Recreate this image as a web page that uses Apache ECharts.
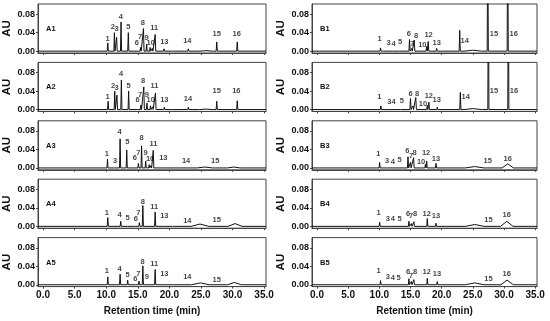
<!DOCTYPE html>
<html>
<head>
<meta charset="utf-8">
<script src="https://cdn.jsdelivr.net/npm/echarts@6/dist/echarts.min.js"></script>
<style>html,body{margin:0;padding:0;background:#fff}#c{width:550px;height:321px}</style>
</head>
<body>
<div id="c"></div>
<script>
// axis ticks
const xTicks = [0, 5, 10, 15, 20, 25, 30, 35];
const yTicks = [0, 0.04, 0.08];

// peaks: [retention time (min), height (AU), half base width (min, optional)]
const A1_peaks = [[10.25,0.018],[11.3,0.040],[11.65,0.030],[12.35,0.063],[13.5,0.040],[15.1,0.003],[15.45,0.008],[15.9,0.049],[16.4,0.015],[16.95,0.008],[17.3,0.006],[17.75,0.036],[19.15,0.005],[20.6,0.002],[23.0,0.005],[25.8,0.001,1.0],[27.5,0.020],[30.75,0.020]];
const A2_peaks = [[10.3,0.018],[11.35,0.040],[11.7,0.031],[12.4,0.064],[13.55,0.040],[15.1,0.004],[15.5,0.010],[15.95,0.049],[16.45,0.014],[17.0,0.008],[17.35,0.006],[17.8,0.036],[19.2,0.005],[20.6,0.002],[23.0,0.005],[25.8,0.001,1.0],[27.5,0.018],[30.75,0.019]];
const A3_peaks = [[10.2,0.019],[11.4,0.004],[12.2,0.063],[13.25,0.039],[14.55,0.004],[15.1,0.010],[15.6,0.048],[16.25,0.015],[16.8,0.007],[17.1,0.005],[17.45,0.038],[18.95,0.004],[20.5,0.002],[23.0,0.002],[25.6,0.002,1.2],[27.4,0.002],[30.2,0.002,1.0]];
const A4_peaks = [[10.25,0.019],[12.3,0.011],[13.5,0.003],[14.7,0.004],[15.25,0.008],[15.8,0.045],[17.75,0.031],[19.15,0.004],[20.6,0.002],[24.85,0.005,1.4],[30.4,0.006,1.1]];
const A5_peaks = [[10.25,0.017],[12.2,0.023],[13.4,0.010],[14.7,0.004],[15.2,0.008],[15.8,0.041],[16.4,0.003],[17.75,0.033],[19.05,0.004],[20.6,0.002],[24.9,0.004,1.4],[30.3,0.005,1.1]];
const B1_peaks = [[10.2,0.007],[10.6,0.003],[11.5,0.002],[12.2,0.002],[13.2,0.004],[14.85,0.025,0.1],[15.2,0.006],[15.6,0.024,0.1],[17.1,0.004],[17.6,0.010],[17.85,0.021],[19.2,0.006],[22.9,0.045],[25.0,0.002,1.4],[27.4,0.3],[30.6,0.3]];
const B2_peaks = [[10.25,0.008],[10.65,0.003],[11.6,0.002],[12.3,0.002],[13.5,0.003],[15.0,0.024,0.1],[15.4,0.008],[15.85,0.026,0.1],[17.1,0.004],[17.7,0.009],[17.95,0.016],[19.3,0.005],[23.0,0.037],[25.0,0.002,1.4],[27.5,0.3],[30.7,0.3]];
const B3_peaks = [[10.05,0.012],[11.25,0.003],[12.15,0.003],[13.1,0.004],[14.6,0.024],[15.0,0.012],[15.5,0.022],[16.7,0.003],[17.4,0.008],[17.6,0.015],[19.1,0.010],[25.3,0.003,1.5],[27.5,0.001],[30.6,0.009,0.9]];
const B4_peaks = [[10.05,0.009],[11.35,0.003],[12.0,0.002],[13.1,0.002],[14.75,0.011],[15.15,0.006],[15.55,0.010],[17.7,0.017],[19.1,0.007],[25.3,0.004,1.5],[30.45,0.011,1.0]];
const B5_peaks = [[10.2,0.009],[11.35,0.002],[12.0,0.002],[13.2,0.001],[14.75,0.013],[15.15,0.007],[15.55,0.011],[17.7,0.014],[19.3,0.007],[25.3,0.004,1.5],[30.5,0.010,1.0]];

// peak number labels: [text, retention time, AU]
const A1_labels = [['1',10.2,0.026],['2',11.05,0.052],['3',11.65,0.047],['4',12.3,0.074],['5',13.5,0.052],['6',14.85,0.018],['7',15.35,0.030],['8',15.8,0.060],['9',16.4,0.029],['10',17.05,0.018],['11',17.6,0.050],['13',19.2,0.019],['14',22.85,0.022],['15',27.5,0.037],['16',30.65,0.037]];
const A2_labels = [['1',10.2,0.028],['2',11.1,0.052],['3',11.65,0.047],['4',12.35,0.077],['5',13.55,0.052],['6',14.95,0.020],['7',15.35,0.031],['8',15.85,0.062],['9',16.45,0.031],['10',17.05,0.020],['11',17.65,0.051],['13',19.2,0.020],['14',22.95,0.024],['15',27.5,0.040],['16',30.6,0.040]];
const A3_labels = [['1',10.1,0.030],['3',11.4,0.015],['4',12.1,0.078],['5',13.35,0.056],['6',14.55,0.021],['7',15.1,0.032],['8',15.6,0.064],['9',16.25,0.032],['10',16.95,0.019],['11',17.5,0.052],['13',19.05,0.021],['14',22.65,0.015],['15',27.25,0.015]];
const A4_labels = [['1',10.1,0.029],['4',12.1,0.024],['5',13.4,0.019],['6',14.7,0.015],['7',15.1,0.028],['8',15.8,0.053],['11',17.6,0.043],['13',19.2,0.022],['14',22.85,0.011],['15',27.5,0.013]];
const A5_labels = [['1',10.1,0.029],['4',12.1,0.035],['5',13.4,0.022],['6',14.6,0.012],['7',15.1,0.024],['8',15.75,0.050],['9',16.45,0.016],['11',17.6,0.045],['13',19.2,0.023],['14',22.85,0.016],['15',27.5,0.011]];
const B1_labels = [['1',10.05,0.027],['3',11.5,0.017],['4',12.3,0.016],['5',13.35,0.019],['6',14.75,0.038],['7',15.3,0.016],['8',15.9,0.032],['10',16.9,0.014],['12',17.9,0.034],['13',19.2,0.018],['14',23.7,0.023],['15',28.4,0.038],['16',31.55,0.038]];
const B2_labels = [['1',10.0,0.027],['3',11.6,0.017],['4',12.3,0.016],['5',13.6,0.019],['6',15.0,0.034],['8',16.05,0.034],['10',17.0,0.012],['12',17.95,0.030],['13',19.2,0.021],['14',23.85,0.027],['15',28.4,0.041],['16',31.6,0.041]];
const B3_labels = [['1',9.85,0.030],['3',11.25,0.015],['4',12.15,0.013],['5',13.25,0.017],['6',14.5,0.036],['7',15.1,0.027],['8',15.65,0.032],['10',16.7,0.013],['12',17.5,0.033],['13',19.1,0.020],['15',27.4,0.015],['16',30.6,0.020]];
const B4_labels = [['1',9.9,0.029],['3',11.35,0.017],['4',12.15,0.015],['5',13.25,0.015],['6',14.6,0.027],['7',15.1,0.022],['8',15.75,0.027],['12',17.6,0.027],['13',19.1,0.022],['15',27.5,0.014],['16',30.45,0.024]];
const B5_labels = [['1',9.9,0.029],['3',11.35,0.016],['4',12.15,0.014],['5',13.1,0.015],['6',14.6,0.028],['7',15.1,0.019],['8',15.75,0.028],['12',17.6,0.027],['13',19.25,0.024],['15',27.5,0.013],['16',30.45,0.024]];

const panelNames = ['A1','A2','A3','A4','A5','B1','B2','B3','B4','B5'];
const panelPeaks = [A1_peaks,A2_peaks,A3_peaks,A4_peaks,A5_peaks,B1_peaks,B2_peaks,B3_peaks,B4_peaks,B5_peaks];
const panelLabels = [A1_labels,A2_labels,A3_labels,A4_labels,A5_labels,B1_labels,B2_labels,B3_labels,B4_labels,B5_labels];

const X_MIN = -0.8, X_MAX = 35.3, Y_MIN = -0.004, Y_MAX = 0.102;
const DEFAULT_W = 0.09;

function trace(peaks) {
  const pts = [[X_MIN, 0]];
  peaks.slice().sort((a, b) => a[0] - b[0]).forEach(p => {
    const w = p[2] || DEFAULT_W;
    pts.push([p[0] - w, 0], [p[0], p[1]], [p[0] + w, 0]);
  });
  pts.push([X_MAX, 0]);
  return pts;
}

const grids = [], xAxes = [], yAxes = [], series = [], titles = [];
const font = 'Liberation Sans, Arial, sans-serif';
for (let i = 0; i < 10; i++) {
  const col = i < 5 ? 0 : 1, row = i % 5;
  const top = 4 + row * 58.4;
  const left = col === 0 ? 38 : 312;
  const width = col === 0 ? 228 : 225;
  const bottomRow = row === 4;
  grids.push({left: left, top: top, width: width, height: 49, show: true, borderColor: '#444', borderWidth: 1, backgroundColor: '#fff'});
  xAxes.push({
    type: 'value', gridIndex: i, min: X_MIN, max: X_MAX,
    axisLine: {show: true, onZero: false, lineStyle: {color: '#444', width: 1}},
    axisTick: {show: true, customValues: xTicks, length: 2, lineStyle: {color: '#444'}},
    axisLabel: {show: bottomRow, customValues: xTicks, formatter: v => v.toFixed(1), fontSize: 10, fontWeight: 'bold', color: '#111', fontFamily: font, margin: 4},
    splitLine: {show: false},
    name: bottomRow ? 'Retention time (min)' : '', nameLocation: 'middle', nameGap: 20,
    nameTextStyle: {fontSize: 10, fontWeight: 'bold', color: '#111', fontFamily: font}
  });
  yAxes.push({
    type: 'value', gridIndex: i, min: Y_MIN, max: Y_MAX,
    axisLine: {show: true, onZero: false, lineStyle: {color: '#444', width: 1}},
    axisTick: {show: true, customValues: yTicks, length: 2, lineStyle: {color: '#444'}},
    axisLabel: {customValues: yTicks, formatter: v => v.toFixed(2), fontSize: 9, fontWeight: 'bold', color: '#111', fontFamily: font, margin: 3},
    splitLine: {show: false},
    name: 'AU', nameLocation: 'middle', nameRotate: 90, nameGap: 25,
    nameTextStyle: {fontSize: 11.5, fontWeight: 'bold', color: '#111', fontFamily: font}
  });
  series.push({
    type: 'line', xAxisIndex: i, yAxisIndex: i, data: trace(panelPeaks[i]),
    showSymbol: false, symbol: 'none', clip: true,
    lineStyle: {color: '#111', width: 1}, silent: true
  });
  series.push({
    type: 'scatter', xAxisIndex: i, yAxisIndex: i, symbolSize: 0, silent: true,
    data: panelLabels[i].map(l => [l[1], l[2], l[0]]),
    label: {show: true, position: 'inside', formatter: p => p.value[2], fontSize: 7.5, fontWeight: 'bold', color: '#111', fontFamily: font}
  });
  titles.push({
    text: panelNames[i], left: col === 0 ? 46 : 320, top: top + 21,
    textStyle: {fontSize: 7.5, fontWeight: 'bold', color: '#111', fontFamily: font}, padding: 0
  });
}

const chart = echarts.init(document.getElementById('c'), null, {renderer: 'canvas'});
chart.setOption({
  animation: false,
  backgroundColor: '#fff',
  title: titles,
  grid: grids,
  xAxis: xAxes,
  yAxis: yAxes,
  series: series
});
</script>
</body>
</html>
